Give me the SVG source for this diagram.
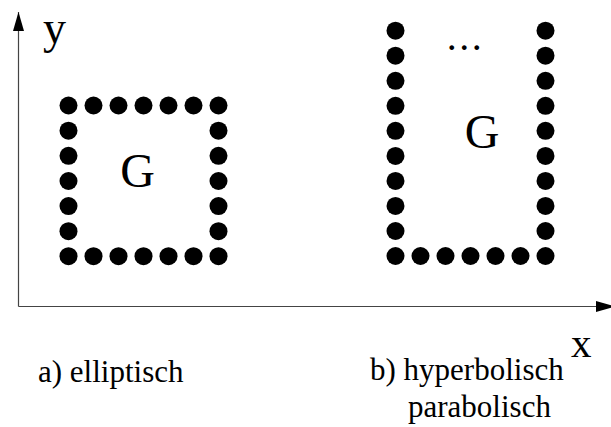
<svg xmlns="http://www.w3.org/2000/svg" width="611" height="427" viewBox="0 0 611 427">
  <style>
    .lbl { font-family: "Liberation Serif", "Times New Roman", "DejaVu Serif", serif; fill: #000; }
    .axis { stroke: #444; stroke-width: 1.2; fill: none; }
    .dot { fill: #000; }
  </style>
  <defs>
    <marker id="arrow" viewBox="0 0 19 11" refX="19" refY="5.5" markerWidth="19" markerHeight="11" markerUnits="userSpaceOnUse" orient="auto">
      <path d="M0,0 L19,5.5 L0,11 Z" fill="#000"/>
    </marker>
    <circle id="d" r="9" class="dot"/>
  </defs>
  <rect width="611" height="427" fill="#fff"/>

  <!-- coordinate axes -->
  <g id="axes">
    <line class="axis" x1="18.5" y1="306.5" x2="18.5" y2="12" marker-end="url(#arrow)"/>
    <line class="axis" x1="18.5" y1="306.5" x2="615" y2="306.5" marker-end="url(#arrow)"/>
    <text class="lbl" x="43" y="43" font-size="46">y</text>
    <text class="lbl" x="571" y="357" font-size="41">x</text>
  </g>

  <!-- a) closed domain: dotted square -->
  <g id="elliptic">
    <g id="elliptic-boundary">
      <use href="#d" x="68.5" y="105.5"/><use href="#d" x="93.5" y="105.5"/><use href="#d" x="118.5" y="105.5"/><use href="#d" x="143.5" y="105.5"/><use href="#d" x="168.5" y="105.5"/><use href="#d" x="193.5" y="105.5"/><use href="#d" x="218.5" y="105.5"/>
      <use href="#d" x="68.5" y="130.7"/><use href="#d" x="218.5" y="130.7"/>
      <use href="#d" x="68.5" y="155.8"/><use href="#d" x="218.5" y="155.8"/>
      <use href="#d" x="68.5" y="181"/><use href="#d" x="218.5" y="181"/>
      <use href="#d" x="68.5" y="206.1"/><use href="#d" x="218.5" y="206.1"/>
      <use href="#d" x="68.5" y="231.2"/><use href="#d" x="218.5" y="231.2"/>
      <use href="#d" x="68.5" y="256.2"/><use href="#d" x="93.5" y="256.2"/><use href="#d" x="118.5" y="256.2"/><use href="#d" x="143.5" y="256.2"/><use href="#d" x="168.5" y="256.2"/><use href="#d" x="193.5" y="256.2"/><use href="#d" x="218.5" y="256.2"/>
    </g>
    <text class="lbl" x="137.5" y="187" font-size="48" text-anchor="middle">G</text>
    <text class="lbl" x="38" y="382" font-size="31">a) elliptisch</text>
  </g>

  <!-- b) open domain: dotted U shape -->
  <g id="hyperbolic">
    <g id="hyperbolic-boundary">
      <use href="#d" x="395.5" y="30.7"/><use href="#d" x="545.5" y="30.7"/>
      <use href="#d" x="395.5" y="55.7"/><use href="#d" x="545.5" y="55.7"/>
      <use href="#d" x="395.5" y="80.8"/><use href="#d" x="545.5" y="80.8"/>
      <use href="#d" x="395.5" y="105.8"/><use href="#d" x="545.5" y="105.8"/>
      <use href="#d" x="395.5" y="130.8"/><use href="#d" x="545.5" y="130.8"/>
      <use href="#d" x="395.5" y="155.9"/><use href="#d" x="545.5" y="155.9"/>
      <use href="#d" x="395.5" y="180.9"/><use href="#d" x="545.5" y="180.9"/>
      <use href="#d" x="395.5" y="205.9"/><use href="#d" x="545.5" y="205.9"/>
      <use href="#d" x="395.5" y="231"/><use href="#d" x="545.5" y="231"/>
      <use href="#d" x="395.5" y="256"/><use href="#d" x="420.5" y="256"/><use href="#d" x="445.5" y="256"/><use href="#d" x="470.5" y="256"/><use href="#d" x="495.5" y="256"/><use href="#d" x="520.5" y="256"/><use href="#d" x="545.5" y="256"/>
    </g>
    <text class="lbl" x="446.7" y="50" font-size="40" letter-spacing="2.5">...</text>
    <text class="lbl" x="482" y="148" font-size="48" text-anchor="middle">G</text>
    <text class="lbl" x="370" y="380" font-size="31">b) hyperbolisch</text>
    <text class="lbl" x="408" y="417" font-size="31">parabolisch</text>
  </g>
</svg>
